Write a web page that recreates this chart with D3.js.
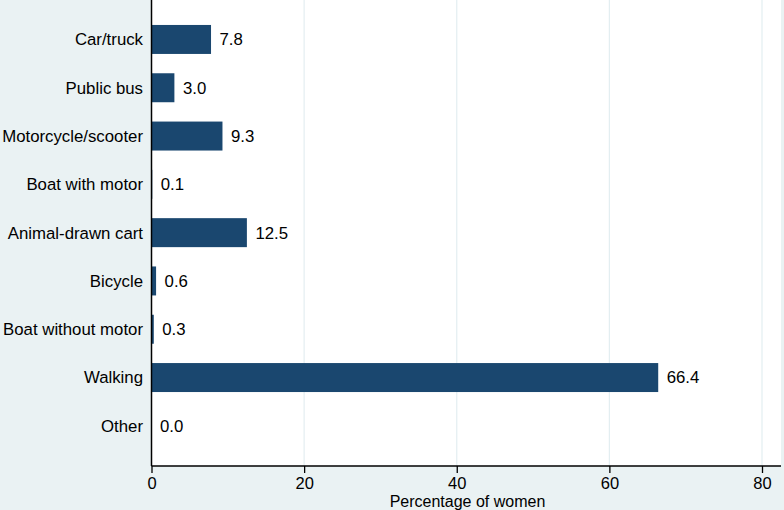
<!DOCTYPE html>
<html>
<head>
<meta charset="utf-8">
<script src="https://cdn.jsdelivr.net/npm/d3@7"></script>
<style>
  body { margin: 0; background: #eaf2f3; }
  text { font-family: "Liberation Sans", Arial, sans-serif; }
</style>
</head>
<body>
<svg id="chart" width="784" height="510"></svg>
<script>
// data
const categories = ["Car/truck", "Public bus", "Motorcycle/scooter", "Boat with motor",
  "Animal-drawn cart", "Bicycle", "Boat without motor", "Walking", "Other"];
const values = [7.8, 3.0, 9.3, 0.1, 12.5, 0.6, 0.3, 66.4, 0.0];
const xTicks = [0, 20, 40, 60, 80];

const svg = d3.select("#chart");
const W = 784, H = 510;
const fs = 16.8;

// plot region
const plot = { left: 151.5, right: 781, top: 0, bottom: 466 };

svg.append("rect").attr("width", W).attr("height", H).attr("fill", "#eaf2f3");
svg.append("rect")
  .attr("x", plot.left).attr("y", plot.top)
  .attr("width", plot.right - plot.left).attr("height", plot.bottom - plot.top)
  .attr("fill", "#ffffff");

const x = d3.scaleLinear().domain([0, 80]).range([plot.left, 762]);
const y = d3.scaleBand().domain(categories).range([15.3, 450]).paddingInner(0.4).paddingOuter(0.2);

// vertical gridlines
svg.append("g").selectAll("line")
  .data(xTicks.filter(d => d > 0))
  .join("line")
    .attr("x1", d => x(d)).attr("x2", d => x(d))
    .attr("y1", plot.top).attr("y2", plot.bottom)
    .attr("stroke", "#e3eef1").attr("stroke-width", 1.2);

// bars
svg.append("g").selectAll("rect")
  .data(categories)
  .join("rect")
    .attr("x", x(0))
    .attr("y", d => y(d))
    .attr("width", (d, i) => x(values[i]) - x(0))
    .attr("height", y.bandwidth())
    .attr("fill", "#1a476f");

// value labels
svg.append("g").selectAll("text")
  .data(categories)
  .join("text")
    .attr("x", (d, i) => x(values[i]) + 8.5)
    .attr("y", d => y(d) + y.bandwidth() / 2)
    .attr("dy", "0.35em")
    .attr("font-size", fs)
    .attr("fill", "#000")
    .text((d, i) => values[i].toFixed(1));

// category labels
svg.append("g").selectAll("text")
  .data(categories)
  .join("text")
    .attr("x", plot.left - 8.5)
    .attr("y", d => y(d) + y.bandwidth() / 2)
    .attr("dy", "0.35em")
    .attr("text-anchor", "end")
    .attr("font-size", fs)
    .attr("fill", "#000")
    .text(d => d);

// x axis
const xAxis = svg.append("g")
  .attr("transform", `translate(0,${plot.bottom})`)
  .call(d3.axisBottom(x).tickValues(xTicks).tickSize(7).tickPadding(4));
xAxis.select(".domain").attr("d", `M${plot.left},0H${plot.right}`).attr("stroke", "#000").attr("stroke-width", 1.5);
xAxis.selectAll(".tick line").attr("stroke", "#000").attr("stroke-width", 1.3);
xAxis.selectAll(".tick text").attr("font-size", 16.5).attr("fill", "#000")
  .attr("font-family", "Liberation Sans, Arial, sans-serif");

// y axis line
svg.append("line")
  .attr("x1", plot.left).attr("x2", plot.left)
  .attr("y1", plot.top).attr("y2", plot.bottom)
  .attr("stroke", "#000").attr("stroke-width", 1.5);

// x axis title
svg.append("text")
  .attr("x", 467.5)
  .attr("y", 506.5)
  .attr("text-anchor", "middle")
  .attr("font-size", 16)
  .attr("fill", "#000")
  .text("Percentage of women");
</script>
</body>
</html>
